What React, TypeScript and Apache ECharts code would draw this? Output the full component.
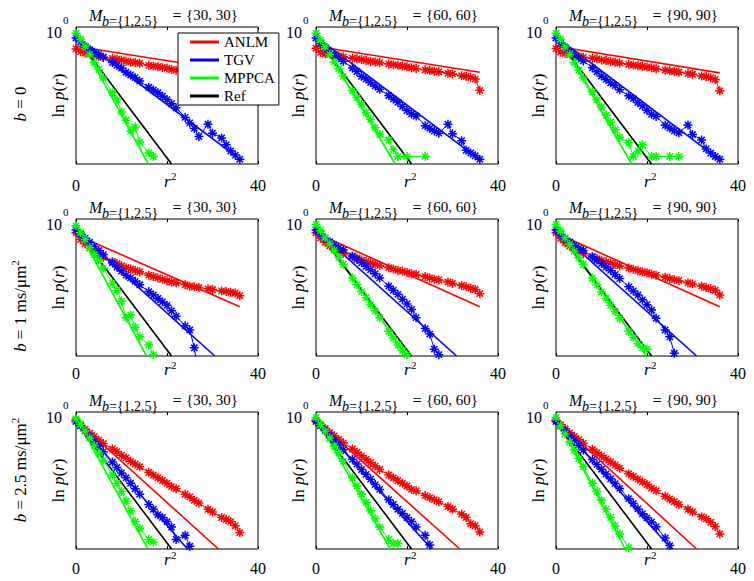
import React, { useEffect, useRef } from 'react';
import * as echarts from 'echarts';

// r^2 sample positions shared by every panel
const R2 = [0, 1, 2, 3, 4, 5, 6, 8, 9, 10, 11, 12, 13, 14, 16, 17, 18, 19, 20, 21, 22, 24, 25, 26, 27, 29, 30, 32, 33, 34, 35, 36];

// row / column labels
const ROW_B = ['0', '1', '2.5'];
const M_SETS = ['{30, 30}', '{60, 60}', '{90, 90}'];
const LEGEND_NAMES = ['ANLM', 'TGV', 'MPPCA', 'Ref'];
const X_TICKS = [0, 20, 40];

// log10 p(r) for each panel, row-major: (b=0: M30,M60,M90), (b=1: ...), (b=2.5: ...)
const ANLM_DATA: (number | null)[][] = [
  [-0.64, -0.72, -0.76, -0.80, -0.82, -0.86, -0.88, -0.92, -0.94, -0.96, -1.00, -1.02, -1.04, -1.06, -1.12, -1.14, -1.16, -1.18, -1.20, -1.24, -1.26, -1.30, -1.32, -1.34, -1.36, -1.40, -1.42, -1.46, -1.48, -1.50, -1.54, -1.84],
  [-0.62, -0.74, -0.78, -0.80, -0.83, -0.85, -0.87, -0.91, -0.93, -0.95, -0.98, -1.00, -1.02, -1.04, -1.08, -1.10, -1.12, -1.14, -1.16, -1.19, -1.21, -1.25, -1.27, -1.29, -1.31, -1.35, -1.37, -1.42, -1.44, -1.47, -1.52, -1.85],
  [-0.63, -0.73, -0.77, -0.81, -0.83, -0.86, -0.88, -0.91, -0.93, -0.96, -0.98, -1.00, -1.03, -1.05, -1.09, -1.11, -1.13, -1.15, -1.17, -1.19, -1.22, -1.26, -1.28, -1.30, -1.32, -1.36, -1.38, -1.43, -1.45, -1.48, -1.53, -1.86],
  [-0.40, -0.60, -0.72, -0.84, -0.94, -1.04, -1.12, -1.24, -1.30, -1.36, -1.42, -1.46, -1.50, -1.54, -1.64, -1.68, -1.72, -1.76, -1.80, -1.84, -1.86, -1.92, -1.96, -1.98, -2.00, -2.04, -2.06, -2.10, -2.12, -2.14, -2.16, -2.24],
  [-0.40, -0.56, -0.68, -0.78, -0.86, -0.94, -1.00, -1.10, -1.14, -1.20, -1.24, -1.28, -1.32, -1.36, -1.42, -1.46, -1.50, -1.52, -1.56, -1.60, -1.62, -1.68, -1.72, -1.76, -1.78, -1.84, -1.88, -1.94, -1.98, -2.02, -2.06, -2.18],
  [-0.40, -0.57, -0.69, -0.79, -0.87, -0.95, -1.01, -1.11, -1.16, -1.21, -1.25, -1.29, -1.33, -1.37, -1.43, -1.47, -1.51, -1.54, -1.57, -1.61, -1.64, -1.70, -1.74, -1.77, -1.80, -1.86, -1.90, -1.96, -2.00, -2.04, -2.08, -2.22],
  [-0.24, -0.38, -0.50, -0.62, -0.72, -0.82, -0.92, -1.08, -1.16, -1.26, -1.34, -1.44, -1.52, -1.60, -1.76, -1.84, -1.92, -2.00, -2.08, -2.18, -2.24, -2.40, -2.48, -2.58, -2.66, -2.84, -2.92, -3.08, -3.14, -3.20, -3.32, -3.52],
  [-0.24, -0.36, -0.48, -0.60, -0.70, -0.80, -0.90, -1.08, -1.18, -1.28, -1.38, -1.48, -1.58, -1.68, -1.84, -1.92, -2.00, -2.08, -2.16, -2.26, -2.30, -2.44, -2.50, -2.56, -2.62, -2.76, -2.84, -2.98, -3.08, -3.26, -3.32, -3.50],
  [-0.24, -0.37, -0.49, -0.61, -0.71, -0.81, -0.91, -1.09, -1.19, -1.28, -1.37, -1.46, -1.55, -1.64, -1.80, -1.88, -1.96, -2.04, -2.12, -2.22, -2.30, -2.46, -2.54, -2.62, -2.70, -2.84, -2.92, -3.06, -3.12, -3.22, -3.34, -3.56],
];

const TGV_DATA: (number | null)[][] = [
  [-0.32, -0.44, -0.56, -0.66, -0.74, -0.80, -0.88, -1.04, -1.12, -1.20, -1.32, -1.40, -1.48, -1.58, -1.76, -1.84, -1.92, -2.02, -2.12, -2.24, -2.36, -2.64, -2.80, -2.96, -3.20, -2.84, -3.10, -3.24, -3.44, -3.62, -3.74, -3.86],
  [-0.32, -0.48, -0.60, -0.72, -0.80, -0.90, -1.00, -1.20, -1.30, -1.44, -1.52, -1.62, -1.72, -1.82, -2.00, -2.10, -2.20, -2.32, -2.44, -2.54, -2.60, -2.88, -2.96, -3.04, -3.10, -2.84, -3.12, -3.32, -3.60, -3.68, -3.76, -3.86],
  [-0.32, -0.47, -0.59, -0.71, -0.81, -0.90, -0.99, -1.19, -1.31, -1.43, -1.53, -1.63, -1.71, -1.83, -2.01, -2.09, -2.21, -2.31, -2.43, -2.55, -2.61, -2.87, -2.95, -3.03, -3.09, -2.86, -3.14, -3.30, -3.56, -3.68, -3.78, -3.86],
  [-0.32, -0.44, -0.56, -0.68, -0.80, -0.92, -1.04, -1.28, -1.40, -1.52, -1.64, -1.72, -1.82, -1.92, -2.12, -2.22, -2.32, -2.42, -2.52, -2.68, -2.84, -3.12, -3.24, -3.76, -4.60],
  [-0.32, -0.44, -0.56, -0.66, -0.76, -0.84, -0.90, -1.08, -1.18, -1.28, -1.38, -1.48, -1.60, -1.72, -1.96, -2.08, -2.20, -2.34, -2.48, -2.64, -2.88, -3.20, -3.36, -3.80, -3.96],
  [-0.32, -0.45, -0.57, -0.67, -0.77, -0.85, -0.92, -1.10, -1.20, -1.30, -1.40, -1.50, -1.62, -1.74, -1.98, -2.10, -2.22, -2.36, -2.50, -2.66, -2.90, -3.24, -3.44, -3.92],
  [-0.28, -0.40, -0.56, -0.70, -0.86, -1.00, -1.16, -1.46, -1.62, -1.78, -1.92, -2.08, -2.24, -2.40, -2.70, -2.84, -3.00, -3.08, -3.20, -3.36, -3.72, -3.60, -3.92],
  [-0.28, -0.40, -0.54, -0.68, -0.82, -0.96, -1.10, -1.38, -1.52, -1.68, -1.82, -1.96, -2.12, -2.26, -2.56, -2.70, -2.84, -2.96, -3.08, -3.20, -3.36, -3.60, -3.88],
  [-0.28, -0.41, -0.55, -0.69, -0.83, -0.97, -1.11, -1.39, -1.53, -1.67, -1.81, -1.95, -2.09, -2.23, -2.53, -2.67, -2.83, -2.97, -3.09, -3.21, -3.35, -3.68, -3.90],
];

const MPPCA_DATA: (number | null)[][] = [
  [-0.18, -0.36, -0.56, -0.80, -1.04, -1.24, -1.48, -1.92, -2.12, -2.48, -2.72, -3.04, -2.92, -3.36, -3.68, -3.78],
  [-0.18, -0.38, -0.58, -0.80, -1.02, -1.22, -1.44, -1.86, -2.06, -2.26, -2.50, -2.70, -2.94, -3.14, -3.30, -3.58, -3.78, null, -3.78, null, null, -3.78],
  [-0.18, -0.36, -0.58, -0.80, -1.04, -1.26, -1.48, -1.90, -2.12, -2.34, -2.58, -2.78, -3.00, -3.22, -3.38, -3.78, -3.62, -3.44, null, -3.78, -3.78, null, -3.78, null, -3.78],
  [-0.20, -0.40, -0.60, -0.84, -1.04, -1.20, -1.44, -1.88, -2.08, -2.40, -2.88, -2.80, -3.16, -3.44, -3.68, -3.96],
  [-0.16, -0.34, -0.54, -0.72, -0.92, -1.12, -1.32, -1.72, -1.92, -2.12, -2.30, -2.50, -2.68, -2.88, -3.28, -3.48, -3.68, -3.84, -3.96],
  [-0.16, -0.35, -0.55, -0.74, -0.94, -1.14, -1.33, -1.73, -1.93, -2.13, -2.32, -2.52, -2.70, -2.90, -3.28, -3.46, -3.64, -3.76, -3.80],
  [-0.20, -0.36, -0.56, -0.76, -0.98, -1.20, -1.40, -1.84, -2.08, -2.32, -2.60, -2.88, -3.20, -3.40, -3.72, -3.80],
  [-0.16, -0.36, -0.56, -0.76, -1.00, -1.20, -1.44, -1.92, -2.16, -2.40, -2.64, -2.88, -3.12, -3.36, -3.72, -3.84, -3.84],
  [-0.16, -0.40, -0.64, -0.88, -1.12, -1.36, -1.60, -2.08, -2.32, -2.58, -2.84, -3.08, -3.32, -3.56, -3.96],
];

// fitted straight lines: [log10 p at r^2 = 0, r^2 at end, log10 p at end]
const ANLM_FIT = [
  [-0.56, 36, -1.32], [-0.56, 36, -1.32], [-0.56, 36, -1.34],
  [-0.46, 36, -2.56], [-0.41, 36, -2.56], [-0.41, 36, -2.56],
  [-0.24, 31.3, -4], [-0.24, 31.6, -4], [-0.24, 30.9, -4],
];
const TGV_FIT = [
  [-0.27, 36, -3.86], [-0.28, 36, -3.88], [-0.28, 36, -3.88],
  [-0.36, 30.5, -4], [-0.32, 30.9, -4], [-0.32, 30.9, -4],
  [-0.24, 24.5, -4], [-0.24, 25.4, -4], [-0.24, 25.4, -4],
];
const MPPCA_FIT = [
  [-0.14, 15.9, -4], [-0.14, 17.4, -4], [-0.14, 16.6, -4],
  [-0.20, 15.5, -4], [-0.14, 19.9, -4], [-0.14, 19.9, -4],
  [-0.16, 15.8, -4], [-0.16, 16.3, -4], [-0.16, 15.2, -4],
];
const REF_FIT = [-0.30, 21, -4];

const Y_MIN = 1e-4;
const Y_MAX = 1;

const FAMILY = 'Liberation Serif';
const COLORS = { ANLM: '#ff0000', TGV: '#0000ff', MPPCA: '#00ff00', Ref: '#000000' };
const STAR = 'path://M5 0L5 10M0 5L10 5M1.5 1.5L8.5 8.5M1.5 8.5L8.5 1.5';

const LEFTS = [76, 316, 556];
const TOPS = [27, 219, 412];
const PW = 182;
const PH = 137;
const TICK_MARGIN = [13, 9, 11];
const XLABEL_DY = [0, -3.5, -6.5];
const ROW_LABEL_Y = [104, 306, 470];

function font(size: number, italic = false) {
  const f: any = { fontFamily: FAMILY, fontSize: size, fill: '#000' };
  if (italic) f.fontStyle = 'italic';
  return f;
}

function txt(x: number, y: number, text: string, size: number, align: string, italic = false) {
  return {
    type: 'text',
    x,
    y,
    silent: true,
    z: 20,
    style: { text, ...font(size, italic), textAlign: align, textVerticalAlign: 'middle' },
  };
}

function buildOption() {
  const grid: any[] = [];
  const xAxis: any[] = [];
  const yAxis: any[] = [];
  const series: any[] = [];
  const graphic: any[] = [];

  for (let r = 0; r < 3; r++) {
    for (let c = 0; c < 3; c++) {
      const k = r * 3 + c;
      const L = LEFTS[c];
      const T = TOPS[r];
      const B = T + PH;
      grid.push({ left: L, top: T, width: PW, height: PH, show: true, borderColor: '#000', borderWidth: 1 });
      const baseX = {
        type: 'value', gridIndex: k, min: X_TICKS[0], max: X_TICKS[2], interval: X_TICKS[1] - X_TICKS[0],
        axisLine: { show: false }, splitLine: { show: false },
        axisTick: { show: true, inside: true, length: 3, lineStyle: { color: '#000', width: 1 } },
      };
      xAxis.push({
        ...baseX, position: 'bottom',
        axisLabel: {
          show: true, margin: TICK_MARGIN[r], color: '#000', fontFamily: FAMILY, fontSize: 16,
          formatter: (v: number) => (v === X_TICKS[0] || v === X_TICKS[2] ? String(v) : ''),
        },
      });
      xAxis.push({ ...baseX, position: 'top', axisLabel: { show: false } });
      yAxis.push({
        type: 'log', logBase: 10, gridIndex: k, min: Y_MIN, max: Y_MAX,
        axisLine: { show: false }, axisTick: { show: false }, axisLabel: { show: false }, splitLine: { show: false },
      });

      const methods: [string, (number | null)[], number[]][] = [
        ['ANLM', ANLM_DATA[k], ANLM_FIT[k]],
        ['TGV', TGV_DATA[k], TGV_FIT[k]],
        ['MPPCA', MPPCA_DATA[k], MPPCA_FIT[k]],
      ];
      for (const [name, vals, fit] of methods) {
        const color = (COLORS as any)[name];
        const data: number[][] = [];
        vals.forEach((v, i) => {
          if (v != null) data.push([R2[i], Math.pow(10, v)]);
        });
        series.push({
          type: 'line', name: name + ' data', xAxisIndex: 2 * k, yAxisIndex: k, data,
          symbol: STAR, symbolSize: 9, showSymbol: true, showAllSymbol: true,
          lineStyle: { color, width: 1 }, itemStyle: { color, borderColor: color, borderWidth: 1.5 },
          silent: true, clip: true, emphasis: { disabled: true }, z: 2,
        });
        series.push({
          type: 'line', name, xAxisIndex: 2 * k, yAxisIndex: k,
          data: [[0, Math.pow(10, fit[0])], [fit[1], Math.pow(10, fit[2])]],
          symbol: 'none', lineStyle: { color, width: 1.6 }, itemStyle: { color },
          silent: true, clip: true, emphasis: { disabled: true }, z: 2,
        });
      }
      series.push({
        type: 'line', name: 'Ref', xAxisIndex: 2 * k, yAxisIndex: k,
        data: [[0, Math.pow(10, REF_FIT[0])], [REF_FIT[1], Math.pow(10, REF_FIT[2])]],
        symbol: 'none', lineStyle: { color: COLORS.Ref, width: 1.6 }, itemStyle: { color: COLORS.Ref },
        silent: true, clip: true, emphasis: { disabled: true }, z: 2,
      });

      // title  M_{b={1,2.5}} = {..}
      const x0 = L + 13;
      graphic.push(txt(x0, T - 12, 'M', 16, 'left', true));
      graphic.push({
        type: 'text', x: x0 + 13, y: T - 6, silent: true, z: 20,
        style: {
          text: '{i|b}={1,2.5}', ...font(14), textAlign: 'left', textVerticalAlign: 'middle',
          rich: { i: { ...font(14, true) } },
        },
      });
      graphic.push(txt(x0 + 88, T - 12, '=', 16, 'center'));
      graphic.push(txt(x0 + 97, T - 12, M_SETS[c], 15, 'left'));

      // y tick 10^0
      graphic.push(txt(L - 14, T + 5, '10', 16, 'right'));
      graphic.push(txt(L - 13, T - 7, '0', 11, 'left'));

      // x label r^2
      graphic.push(txt(L + 94.5, B + 17.3 + XLABEL_DY[r], 'r', 17, 'right', true));
      graphic.push(txt(L + 95, B + 12.2 + XLABEL_DY[r], '2', 11, 'left'));

      // y label ln p(r)
      graphic.push({
        type: 'text', x: L - 18, y: T + PH / 2, rotation: Math.PI / 2, silent: true, z: 20,
        style: {
          text: '{n|ln }{i|p}{n|(}{i|r}{n|)}', ...font(17), textAlign: 'center', textVerticalAlign: 'middle',
          rich: { n: { ...font(17) }, i: { ...font(17, true) } },
        },
      });
    }
    // row label
    const rowText = r === 0 ? `{i|b}{n| = ${ROW_B[r]}}` : `{i|b}{n| = ${ROW_B[r]} ms/μm}{s|2}`;
    graphic.push({
      type: 'text', x: 20, y: ROW_LABEL_Y[r], rotation: Math.PI / 2, silent: true, z: 20,
      style: {
        text: rowText, ...font(17), textAlign: 'center', textVerticalAlign: 'middle',
        rich: {
          n: { ...font(17), lineHeight: 22 },
          i: { ...font(17, true), lineHeight: 22 },
          s: { ...font(11), lineHeight: 11, verticalAlign: 'top' },
        },
      },
    });
  }

  return {
    animation: false,
    backgroundColor: '#fff',
    textStyle: { fontFamily: FAMILY },
    grid,
    xAxis,
    yAxis,
    series,
    graphic,
    legend: {
      left: 178, top: 33, orient: 'vertical', selectedMode: false,
      data: LEGEND_NAMES.map((n) => ({ name: n, icon: 'rect' })),
      itemWidth: 29, itemHeight: 3, itemGap: 2,
      padding: [1, 4, 1, 12],
      borderColor: '#000', borderWidth: 1, backgroundColor: '#fff',
      textStyle: { fontFamily: FAMILY, fontSize: 15, color: '#000', lineHeight: 16 },
      z: 10,
    },
  };
}

export default function App() {
  const ref = useRef<HTMLDivElement>(null);
  useEffect(() => {
    if (!ref.current) return;
    const chart = echarts.init(ref.current, null, { renderer: 'svg' });
    chart.setOption(buildOption() as any);
    return () => chart.dispose();
  }, []);
  return <div ref={ref} style={{ position: 'absolute', left: 0, top: 0, width: 754, height: 581, background: '#fff' }} />;
}
